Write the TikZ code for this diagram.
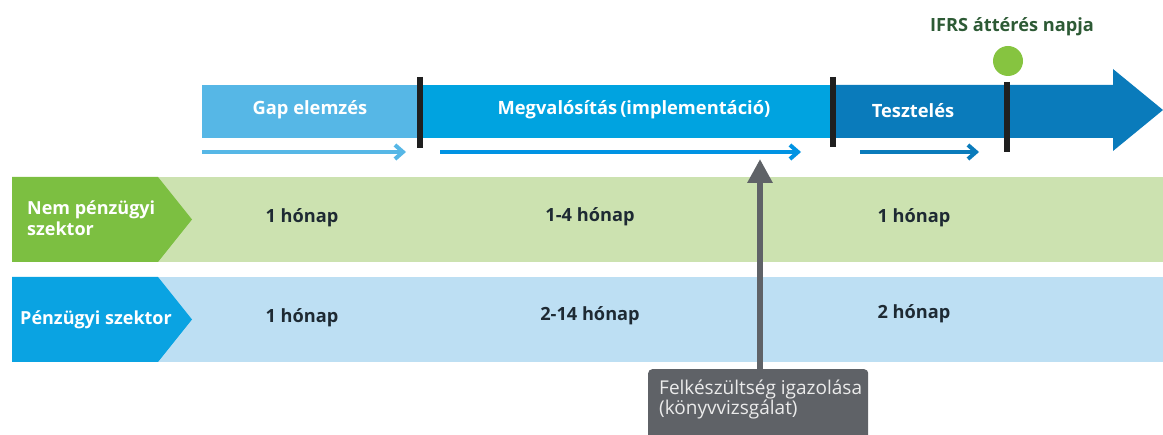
\documentclass[tikz,border=0pt]{standalone}
\usepackage{fontspec}
\setmainfont{Open Sans}
\usetikzlibrary{arrows.meta}
\definecolor{gapblue}{HTML}{56B7E6}
\definecolor{midblue}{HTML}{00A3E0}
\definecolor{darkblue}{HTML}{0A7BBB}
\definecolor{ngreen}{HTML}{7CBF41}
\definecolor{lgreen}{HTML}{CCE2B0}
\definecolor{pblue}{HTML}{0AA3E2}
\definecolor{lblue}{HTML}{BDDFF3}
\definecolor{greybox}{HTML}{5F6267}
\definecolor{txtdark}{HTML}{1E2A33}
\definecolor{ifrsgreen}{HTML}{2D5A35}
\definecolor{dotgreen}{HTML}{86C440}
\tikzset{
  seg/.style={inner sep=0pt, minimum height=53pt, font=\fontsize{18.3}{20}\selectfont\bfseries, text=white},
  divider/.style={line width=6pt, draw=black!88},
  small/.style={line width=4pt, -{Straight Barb[length=8pt,width=14pt,line width=4pt]}},
  month/.style={font=\fontsize{18.2}{20}\selectfont\bfseries, text=txtdark},
  lab/.style={font=\fontsize{18}{21}\selectfont\bfseries, text=white, align=left, inner sep=0pt},
}
\begin{document}
\begin{tikzpicture}[x=1pt,y=-1pt]
\useasboundingbox (0,0) rectangle (1163,435);
% rows
\fill[lgreen] (150,177) rectangle (1163,262);
\fill[ngreen] (12,177) -- (158,177) -- (192,219.5) -- (158,262) -- (12,262) -- cycle;
\fill[lblue] (150,277) rectangle (1163,362);
\fill[pblue] (12,277) -- (158,277) -- (192,319.5) -- (158,362) -- (12,362) -- cycle;
\node[lab, anchor=west] (nem) at (27,218) {Nem pénzügyi\\szektor};
\node[lab, anchor=west] (pen) at (20,320) {Pénzügyi szektor};
\node[month] (m11) at (302,218) {1 hónap};
\node[month] (m12) at (590,217) {1-4 hónap};
\node[month] (m13) at (914,218) {1 hónap};
\node[month] (m21) at (302,318) {1 hónap};
\node[month] (m22) at (590,316) {2-14 hónap};
\node[month] (m23) at (914,314) {2 hónap};
% top bar
\fill[darkblue] (833,85) -- (1113,85) -- (1113,69) -- (1163,110) -- (1113,151) -- (1113,138) -- (833,138) -- cycle;
\node[seg, fill=gapblue, minimum width=218pt] (gap) at (311,111.5) {};
\node[seg, text=white] at (310,110) {Gap elemzés};
\node[seg, fill=midblue, minimum width=413pt] (megv) at (626.5,111.5) {};
\node[seg] at (634,110) {Megvalósítás\,(implementáció)};
\node[seg] (teszt) at (913,111) {Tesztelés};
\draw[divider] (420,77) -- (420,148);
\draw[divider] (833,77) -- (833,147);
\draw[divider] (1007,82) -- (1007,152);
\fill[dotgreen] (1008,61) circle (15);
\node[font=\fontsize{18.2}{20}\selectfont\bfseries, text=ifrsgreen] (ifrs) at (1012,27) {IFRS áttérés napja};
% small arrows
\coordinate (a1s) at (202,152); \coordinate (a1e) at (406,152);
\coordinate (a2s) at (440,152); \coordinate (a2e) at (801,152);
\coordinate (a3s) at (860,152); \coordinate (a3e) at (979,152);
\draw[small, draw=gapblue] (a1s) -- (a1e);
\draw[small, draw=midblue!90!blue] (a2s) -- (a2e);
\draw[small, draw=darkblue] (a3s) -- (a3e);
% callout
\node[fill=greybox, rounded corners=4pt, minimum width=220pt, minimum height=72pt, anchor=north west, inner sep=0pt] (box) at (648,369) {};
\node[anchor=north west, align=left, text=white!92!black, font=\fontsize{19}{19.5}\selectfont, inner sep=0pt] (boxt) at (659,380) {Felkészültség igazolása\\(könyvvizsgálat)};
\coordinate (tip) at (760,159);
\draw[greybox, line width=6pt, -{Triangle[length=24pt,width=24pt]}] (box.north -| tip) -- (tip);
\end{tikzpicture}
\end{document}
